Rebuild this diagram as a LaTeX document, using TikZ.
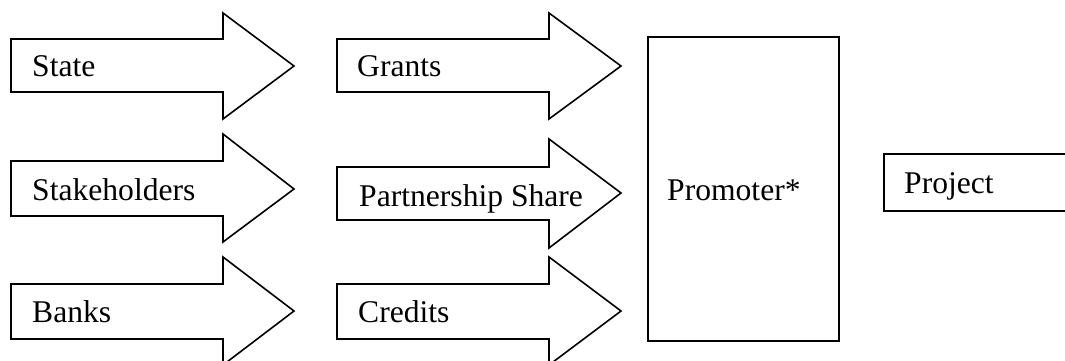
\documentclass[tikz,border=0pt]{standalone}
\usepackage{fontspec}
\setmainfont{Liberation Serif}
\begin{document}
\begin{tikzpicture}[x=1pt,y=-1pt,
  shapeline/.style={draw=black,line width=1.6pt,line join=miter,fill=white},
  lbl/.style={anchor=base west,inner sep=0pt,font=\fontsize{31.6}{38}\selectfont}]
\useasboundingbox (0,0) rectangle (1065,361);
\clip (0,0) rectangle (1065,361);
% left column arrows
\draw[shapeline] (11,39)--(223,39)--(223,13)--(294,66)--(223,119)--(223,92)--(11,92)--cycle;
\draw[shapeline] (11,161)--(223,161)--(223,134)--(294,189)--(223,242)--(223,216)--(11,216)--cycle;
\draw[shapeline] (11,284)--(223,284)--(223,257)--(294,311)--(223,365)--(223,339)--(11,339)--cycle;
% middle column arrows
\draw[shapeline] (337,39)--(549,39)--(549,13)--(621,66)--(549,119)--(549,92)--(337,92)--cycle;
\draw[shapeline] (337,167)--(549,167)--(549,139)--(621,193)--(549,248)--(549,220)--(337,220)--cycle;
\draw[shapeline] (337,284)--(549,284)--(549,257)--(621,311)--(549,365)--(549,339)--(337,339)--cycle;
% boxes
\draw[shapeline] (648,37) rectangle (839,341);
\draw[shapeline] (884,154) rectangle (1075,211);
% labels
\node[lbl] (state) at (32,77) {State};
\node[lbl] (stake) at (32,200) {Stakeholders};
\node[lbl] (banks) at (32,322) {Banks};
\node[lbl] (grants) at (357,77) {Grants};
\node[lbl] (share) at (359,206) {Partnership Share};
\node[lbl] (credits) at (358,322) {Credits};
\node[lbl] (promoter) at (667,200) {Promoter*};
\node[lbl] (project) at (904,193) {Project};
\end{tikzpicture}
\end{document}
